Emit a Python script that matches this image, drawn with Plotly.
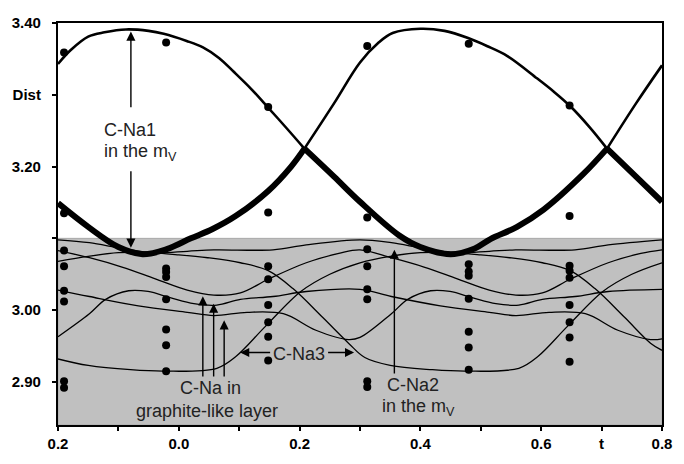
import plotly.graph_objects as go

# ---------------- data ----------------
# C-Na1 (upper envelope, medium line) -- segments separated by None
T_CNA1 = [-0.2, -0.178, -0.15, -0.123, -0.0875, -0.05, -0.025, 0.013, 0.04, 0.067, 0.091, 0.12, 0.146, 0.18, 0.208, None,
          0.208, 0.257, 0.30, 0.33, 0.354, 0.40, 0.44, 0.479, 0.51, 0.544, 0.593, 0.62, 0.647, 0.68, 0.709, None,
          0.709, 0.757, 0.80]
D_CNA1 = [3.343, 3.363, 3.381, 3.387, 3.391, 3.389, 3.385, 3.375, 3.366, 3.351, 3.332, 3.308, 3.284, 3.252, 3.225, None,
          3.225, 3.288, 3.345, 3.372, 3.386, 3.392, 3.389, 3.379, 3.368, 3.354, 3.323, 3.305, 3.285, 3.255, 3.225, None,
          3.225, 3.288, 3.341]

# C-Na2 (lower envelope, thick line)
T_CNA2 = [-0.2, -0.15, -0.1, -0.06, -0.02, 0.02, 0.056, 0.094, 0.148, 0.186, 0.208, None,
          0.208, 0.257, 0.30, 0.365, 0.40, 0.45, 0.49, 0.516, 0.56, 0.604, 0.669, 0.709, None,
          0.709, 0.757, 0.80]
D_CNA2 = [3.149, 3.116, 3.088, 3.078, 3.085, 3.10, 3.113, 3.131, 3.166, 3.20, 3.225, None,
          3.225, 3.186, 3.151, 3.104, 3.088, 3.078, 3.086, 3.099, 3.116, 3.14, 3.189, 3.225, None,
          3.225, 3.186, 3.151]

# thin curves in the shaded (graphite-like layer / C-Na3) region
T_P = [-0.2, -0.148, -0.094, -0.04, 0.014, 0.058, 0.156, 0.211, 0.30, 0.352, 0.406, 0.46, 0.514, 0.558, 0.656, 0.711, 0.80]
D_P = [3.098, 3.094, 3.086, 3.080, 3.082, 3.084, 3.084, 3.091, 3.098, 3.094, 3.086, 3.080, 3.082, 3.084, 3.084, 3.091, 3.098]

T_GA = [-0.2, -0.148, -0.094, -0.04, 0.014, 0.058, 0.102, 0.148, 0.211, 0.265, 0.30,
        0.352, 0.406, 0.46, 0.514, 0.558, 0.602, 0.648, 0.711, 0.765, 0.80]
D_GA = [3.083, 3.073, 3.060, 3.044, 3.028, 3.021, 3.024, 3.043, 3.066, 3.079, 3.084,
        3.073, 3.060, 3.044, 3.028, 3.021, 3.024, 3.043, 3.066, 3.079, 3.084]

T_D = [-0.2, -0.15, -0.1, -0.05, 0.0, 0.048, 0.102, 0.148, 0.189, 0.238, 0.281, 0.308,
       0.35, 0.42, 0.475, 0.563, 0.594, 0.643, 0.702, 0.75, 0.80]
D_D = [3.068, 3.075, 3.080, 3.080, 3.077, 3.073, 3.066, 3.055, 3.030, 2.990, 2.954, 2.934,
       2.923, 2.917, 2.915, 2.919, 2.935, 2.977, 3.026, 3.050, 3.066]

T_E = [-0.2, -0.15, -0.08, -0.025, 0.063, 0.094, 0.143, 0.202, 0.25, 0.30,
       0.35, 0.40, 0.45, 0.50, 0.548, 0.602, 0.648, 0.689, 0.738, 0.781, 0.80]
D_E = [2.932, 2.923, 2.917, 2.915, 2.919, 2.935, 2.977, 3.026, 3.050, 3.066,
       3.075, 3.080, 3.080, 3.077, 3.073, 3.066, 3.055, 3.030, 2.990, 2.954, 2.944]

T_B = [-0.2, -0.148, -0.121, -0.083, -0.051, -0.013, 0.025, 0.063, 0.102, 0.156, 0.211, 0.30,
       0.352, 0.433, 0.514, 0.558, 0.613, 0.673, 0.727, 0.781, 0.80]
D_B = [2.963, 2.995, 3.015, 3.027, 3.026, 3.017, 3.009, 3.007, 3.015, 3.019, 3.026, 3.029,
       3.019, 3.006, 2.997, 2.9925, 2.997, 2.995, 2.972, 2.959, 2.960]

T_G3 = [-0.2, -0.148, -0.067, 0.014, 0.058, 0.113, 0.173, 0.227, 0.281, 0.30,
        0.352, 0.379, 0.417, 0.449, 0.487, 0.525, 0.563, 0.602, 0.656, 0.711, 0.80]
D_G3 = [3.028, 3.019, 3.006, 2.997, 2.9925, 2.997, 2.995, 2.972, 2.959, 2.962,
        2.995, 3.015, 3.027, 3.026, 3.017, 3.009, 3.007, 3.015, 3.019, 3.026, 3.029]

# measured points (black dots)
T_PTS = ([-0.19] * 8 + [-0.021] * 8 + [0.148] * 8 + [0.312] * 8 + [0.48] * 8 + [0.647] * 9)
D_PTS = ([3.359, 3.135, 3.083, 3.061, 3.027, 3.012, 2.901, 2.892] +
         [3.373, 3.058, 3.053, 3.046, 3.015, 2.973, 2.951, 2.915] +
         [3.283, 3.136, 3.061, 3.043, 3.007, 2.983, 2.963, 2.930] +
         [3.368, 3.129, 3.085, 3.061, 3.029, 3.015, 2.901, 2.893] +
         [3.371, 3.064, 3.054, 3.048, 3.016, 2.970, 2.948, 2.917] +
         [3.285, 3.131, 3.062, 3.055, 3.045, 3.007, 2.983, 2.962, 2.928])

X_TICKS = [-0.2, -0.1, 0.0, 0.1, 0.2, 0.3, 0.4, 0.5, 0.6, 0.7, 0.8]
X_LABELS = ["0.2", "", "0.0", "", "0.2", "", "0.4", "", "0.6", "t", "0.8"]
Y_TICKS = [3.40, 3.30, 3.20, 3.10, 3.00, 2.90]
Y_LABELS = ["3.40", "Dist", "3.20", "", "3.00", "2.90"]
X_RANGE = [-0.2, 0.8]
Y_RANGE = [2.84, 3.40]
SHADE_TOP = 3.10

FONT = "Liberation Sans, Arial, sans-serif"

fig = go.Figure()

fig.add_shape(type="rect", xref="x", yref="y", x0=X_RANGE[0], x1=X_RANGE[1], y0=Y_RANGE[0], y1=SHADE_TOP,
              fillcolor="#c0c0c0", line=dict(color="#a8a8a8", width=1), layer="below")

for tt, dd in [(T_P, D_P), (T_GA, D_GA), (T_D, D_D), (T_E, D_E), (T_B, D_B), (T_G3, D_G3)]:
    fig.add_trace(go.Scatter(x=tt, y=dd, mode="lines", line=dict(color="black", width=1.3, shape="spline"),
                             hoverinfo="skip", showlegend=False))

fig.add_trace(go.Scatter(x=T_PTS, y=D_PTS, mode="markers", marker=dict(color="black", size=8),
                         showlegend=False, hoverinfo="skip"))

fig.add_trace(go.Scatter(x=T_CNA1, y=D_CNA1, mode="lines", connectgaps=False,
                         line=dict(color="black", width=2.6, shape="spline"), showlegend=False))
fig.add_trace(go.Scatter(x=T_CNA2, y=D_CNA2, mode="lines", connectgaps=False,
                         line=dict(color="black", width=6, shape="spline"), showlegend=False))

tf = dict(family=FONT, size=18, color="#222")


def label(x, y, text, xanchor="center"):
    fig.add_annotation(x=x, y=y, xref="x", yref="y", text=text, showarrow=False, font=tf,
                       xanchor=xanchor, yanchor="middle")


def arrow(x, y, ax, ay):
    fig.add_annotation(x=x, y=y, ax=ax, ay=ay, xref="x", yref="y", axref="x", ayref="y", text="",
                       showarrow=True, arrowhead=2, arrowsize=1.3, arrowwidth=1.4, arrowcolor="black",
                       standoff=0, startstandoff=0)


label(-0.1276, 3.2506, "C-Na1", "left")
label(-0.1276, 3.2197, "in the m<sub>V</sub>", "left")
arrow(-0.0793, 3.388, -0.0793, 3.2805)
arrow(-0.0793, 3.087, -0.0793, 3.1956)

label(0.3407, 2.896, "C-Na2", "left")
label(0.3325, 2.864, "in the m<sub>V</sub>", "left")
arrow(0.3569, 3.0842, 0.3569, 2.9097)

label(0.1996, 2.9393, "C-Na3")
arrow(0.1016, 2.941, 0.1537, 2.941)
arrow(0.2902, 2.941, 0.2447, 2.941)

label(0.0528, 2.891, "C-Na in")
label(0.0463, 2.859, "graphite-like layer")
arrow(0.0398, 3.0193, 0.0398, 2.9056)
arrow(0.0577, 3.009, 0.0577, 2.9056)
arrow(0.0751, 2.9858, 0.0751, 2.9056)

axis_common = dict(showline=True, linecolor="black", linewidth=2.2, mirror=True, showgrid=False,
                   zeroline=False, ticks="outside", ticklen=4, tickwidth=1.5, tickcolor="black",
                   tickfont=dict(family=FONT, size=15, color="black", weight="bold"))

fig.update_xaxes(range=X_RANGE, tickmode="array", tickvals=X_TICKS, ticktext=X_LABELS, **axis_common)
fig.update_yaxes(range=Y_RANGE, tickmode="array", tickvals=Y_TICKS, ticktext=Y_LABELS,
                 ticklabelstandoff=8, **axis_common)

fig.update_layout(width=684, height=464, margin=dict(l=58, r=12, t=23, b=24),
                  paper_bgcolor="white", plot_bgcolor="white", showlegend=False)

fig.write_html("out.html")
